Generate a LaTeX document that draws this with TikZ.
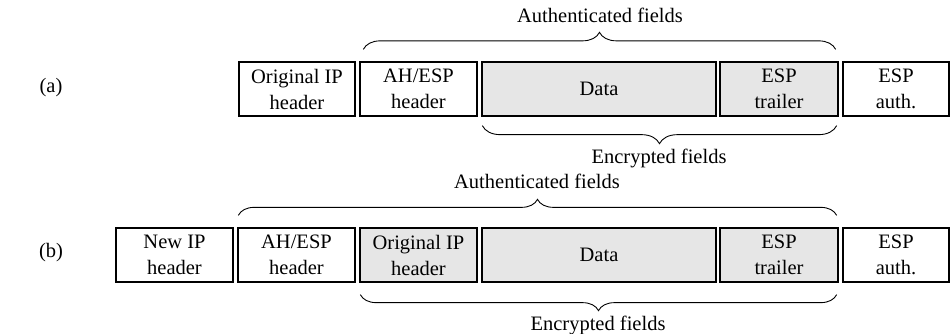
\documentclass[tikz,border=0pt]{standalone}
\usepackage{fontspec}
\setmainfont{Liberation Serif}
\usetikzlibrary{decorations.pathreplacing}
\definecolor{fieldgray}{RGB}{230,230,230}
\begin{document}
\begin{tikzpicture}[x=1pt,y=-1pt,
  font=\fontsize{20.5}{26}\selectfont,
  box/.style={draw=black, line width=1.3pt, fill=white, inner sep=0pt,
    minimum height=54pt, align=center},
  grey/.style={box, fill=fieldgray},
  bracestyle/.style={decorate, decoration={brace, amplitude=#1}, line width=0.9pt},
  lbl/.style={anchor=base, inner sep=0pt}
]
\useasboundingbox (0,0) rectangle (950,334);
% row (a)
\node (la) at (51,88) {(a)};
\node[box, minimum width=116pt] (oa) at (297,89) {Original IP\\header};
\node[box, minimum width=117pt] (aa) at (418.5,89) {AH/ESP\\header};
\node[grey, minimum width=234pt] (da) at (599,89) {Data};
\node[grey, minimum width=118pt] (ta) at (779,89) {ESP\\trailer};
\node[box, minimum width=106pt] (ea) at (896,89) {ESP\\auth.};
\draw[bracestyle=17pt] ([xshift=4pt,yshift=12pt]aa.north west) -- ([xshift=-3pt,yshift=12pt]ta.north east);
\node[lbl] (auta) at (600,23) {Authenticated fields};
\draw[bracestyle=18pt] ([xshift=-2pt,yshift=-9pt]ta.south east) -- ([xshift=1pt,yshift=-9pt]da.south west);
\node[lbl] (enca) at (659,163) {Encrypted fields};
% row (b)
\node (lb) at (51,253) {(b)};
\node[box, minimum width=117pt] (nb) at (174.5,255) {New IP\\header};
\node[box, minimum width=117pt] (ab) at (296.5,255) {AH/ESP\\header};
\node[grey, minimum width=117pt] (ob) at (418.5,255) {Original IP\\header};
\node[grey, minimum width=234pt] (db) at (599,255) {Data};
\node[grey, minimum width=118pt] (tb) at (779,255) {ESP\\trailer};
\node[box, minimum width=106pt] (eb) at (896,255) {ESP\\auth.};
\draw[bracestyle=16pt] ([xshift=1pt,yshift=12pt]ab.north west) -- ([xshift=-2pt,yshift=12pt]tb.north east);
\node[lbl] (autb) at (537,188) {Authenticated fields};
\draw[bracestyle=16pt] ([xshift=-2pt,yshift=-12pt]tb.south east) -- ([xshift=1pt,yshift=-12pt]ob.south west);
\node[lbl] (encb) at (598,330) {Encrypted fields};
\end{tikzpicture}
\end{document}
